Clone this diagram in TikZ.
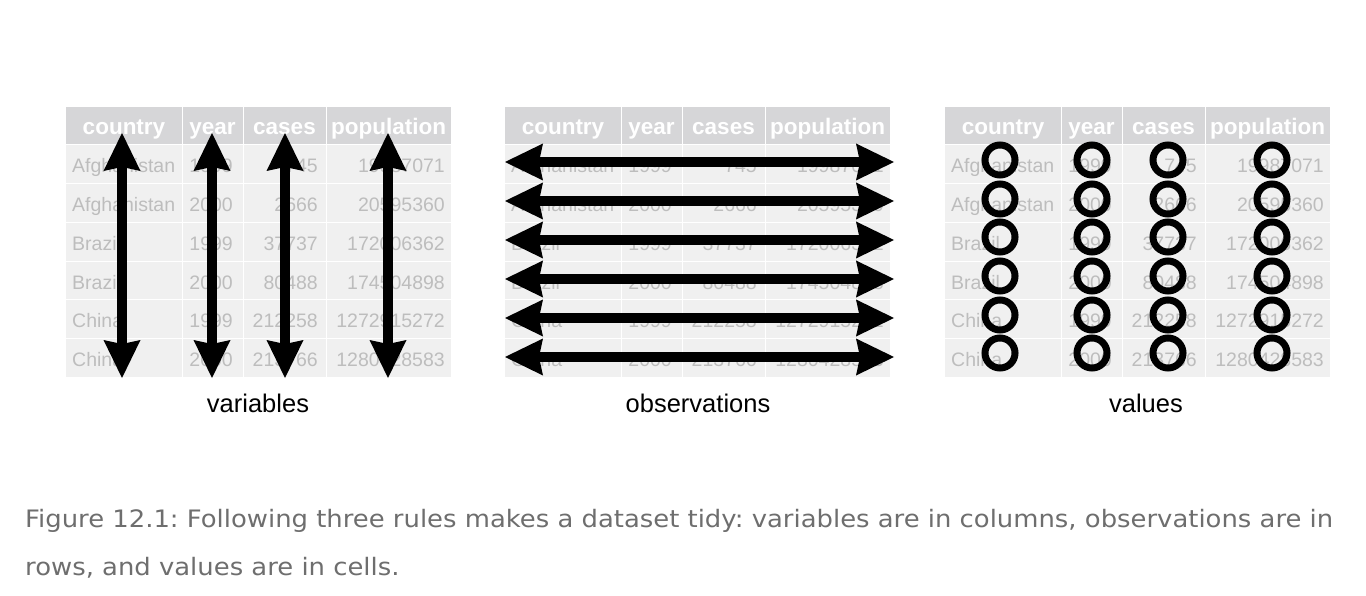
\documentclass[tikz,border=0pt]{standalone}
\usepackage{fontspec}
\setmainfont{Liberation Sans}
\newfontfamily\capfont{DejaVu Sans}
\usetikzlibrary{arrows.meta}

\definecolor{headgray}{HTML}{D6D6D8}
\definecolor{cellgray}{HTML}{F0F0F0}
\definecolor{textgray}{HTML}{BDBDBD}
\definecolor{capgray}{HTML}{6E6E6E}

\tikzset{
  headtext/.style={font=\fontsize{22.5}{24}\selectfont\bfseries, text=white, anchor=base, inner sep=0pt},
  celltext/.style={font=\fontsize{19.5}{22}\selectfont, text=textgray, anchor=base east, inner sep=0pt},
  bigarrow/.style={line width=10pt,
    {Stealth[length=38pt, width=37pt, inset=4pt, line width=0pt]}-{Stealth[length=38pt, width=37pt, inset=4pt, line width=0pt]}},
  ring/.style={circle, draw, line width=7pt, minimum size=30pt, inner sep=0pt},
  ruletext/.style={font=\fontsize{25.5}{28}\selectfont, anchor=base},
  captext/.style={font=\capfont\fontsize{24}{28}\selectfont\frenchspacing, text=capgray, anchor=base west, inner sep=0pt}
}

\def\tidydata{Afghanistan/1999/745/19987071, Afghanistan/2000/2666/20595360,
  Brazil/1999/37737/172006362, Brazil/2000/80488/174504898,
  China/1999/212258/1272915272, China/2000/213766/1280428583}

% caption lines
\def\capone{Figure 12.1: Following three rules makes a dataset tidy: variables are in columns, observations are in}
\def\captwo{rows, and values are in cells.}
\newlength\capw

% one table: #1 = left edge, #2 = name prefix
\newcommand{\tidytable}[2]{%
  \begin{scope}[shift={(#1,0)}]
    \fill[headgray] (0,107) rectangle (385,145);
    \fill[cellgray] (0,145) rectangle (385,377.2);
    \foreach \yy in {145,183.7,222.4,261.1,299.8,338.5}
      \draw[white, line width=1pt] (0,\yy) -- (385,\yy);
    \foreach \xx in {116,177,260}
      \draw[white, line width=1pt] (\xx,107) -- (\xx,377.2);
    \node[headtext] (#2-h1) at (58,135) {country};
    \node[headtext] (#2-h2) at (146.5,135) {year};
    \node[headtext] (#2-h3) at (218.5,135) {cases};
    \node[headtext] (#2-h4) at (322.5,135) {population};
    \foreach \cn/\yr/\cs/\pp [count=\r] in \tidydata {
      \node[celltext, anchor=base west] (#2-\r-1) at (6,134.3+38.7*\r) {\cn};
      \node[celltext] (#2-\r-2) at (167,134.3+38.7*\r) {\yr};
      \node[celltext] (#2-\r-3) at (252,134.3+38.7*\r) {\cs};
      \node[celltext] (#2-\r-4) at (379,134.3+38.7*\r) {\pp};
    }
  \end{scope}}

\begin{document}
\settowidth{\capw}{\capfont\fontsize{24}{28}\selectfont\frenchspacing\capone}
\pgfmathsetmacro\capf{1308/\capw}
\begin{tikzpicture}[x=1pt, y=-1pt]
% Background
\fill[white] (0,0) rectangle (1366,596);

% Tables
\tidytable{66}{var}
\tidytable{505}{obs}
\tidytable{945}{val}

% Variables: one arrow per column
\foreach \xx [count=\i] in {122,212,285,388} {
  \coordinate (vtop\i) at (\xx,133);
  \coordinate (vbot\i) at (\xx,378);
  \draw[bigarrow] (vtop\i) -- (vbot\i);
}

% Observations: one arrow per row
\foreach \yy [count=\i] in {162,201,240,279,318,357} {
  \coordinate (oleft\i) at (505,\yy);
  \coordinate (oright\i) at (894,\yy);
  \draw[bigarrow] (oleft\i) -- (oright\i);
}

% Values: one ring per cell
\foreach \yy [count=\r] in {160,199,237,276,315,353}
  \foreach \xx [count=\c] in {1000,1092,1168,1272}
    \node[ring] (ring\r\c) at (\xx,\yy) {};

% Labels
\node[ruletext] (varlabel) at (258,412) {variables};
\node[ruletext] (obslabel) at (698,412) {observations};
\node[ruletext] (vallabel) at (1146,412) {values};

% Caption
\node[captext] (cap1) at (25,527) {\scalebox{\capf}[1]{\capone}};
\node[captext] (cap2) at (25,575) {\scalebox{\capf}[1]{\captwo}};
\end{tikzpicture}
\end{document}
